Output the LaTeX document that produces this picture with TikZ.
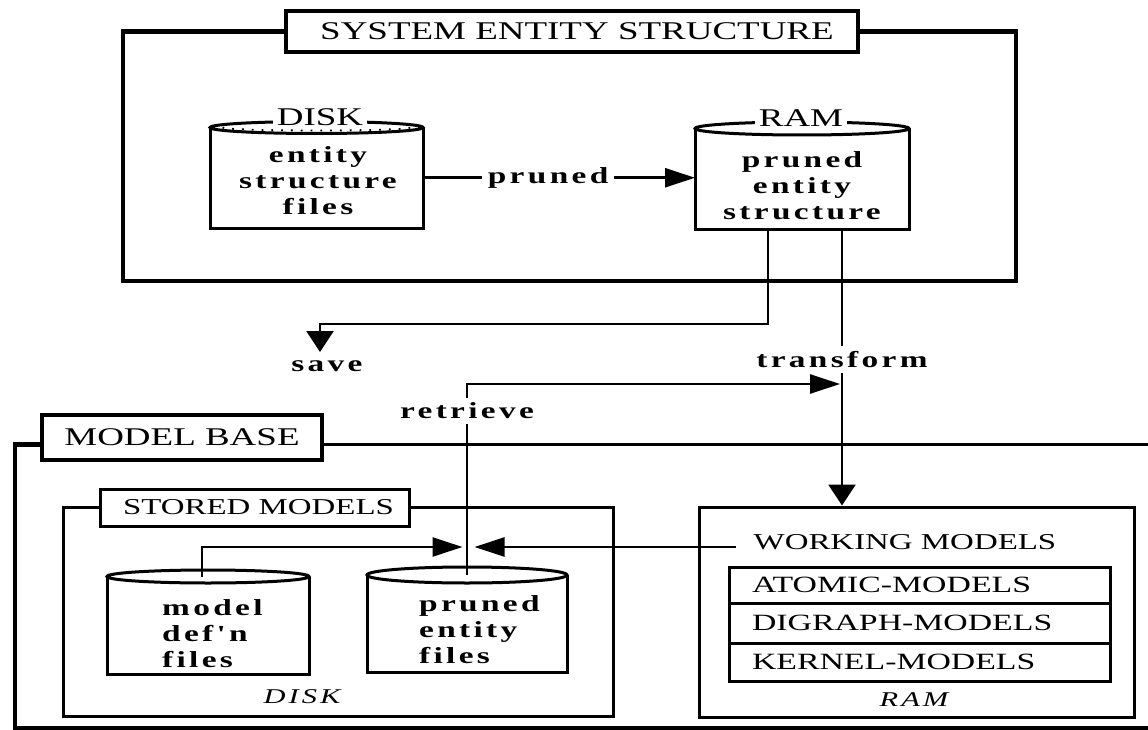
\documentclass[tikz,border=0pt]{standalone}
\usepackage{fontspec}
\usepackage{graphicx}
\setmainfont{Liberation Serif}
\newfontfamily\spacedfont[LetterSpace=10]{Liberation Serif}
\usetikzlibrary{arrows.meta}
% horizontally widened text, as set in the figure
\newcommand{\wtxt}[1]{\scalebox{1.45}[1]{#1}}
\newcommand{\titlefont}{\fontsize{25.5}{30}\selectfont}
\newcommand{\capsfont}{\fontsize{22.7}{27}\selectfont}
\newcommand{\stackfont}{\fontsize{23.3}{28}\selectfont}
\newcommand{\lcfont}{\spacedfont\bfseries\fontsize{23}{26}\selectfont}
\newcommand{\itfont}{\spacedfont\itshape\fontsize{21}{24}\selectfont}

\begin{document}
\begin{tikzpicture}[x=1pt,y=-1pt,
  frame/.style={line width=4.5pt},
  thinframe/.style={line width=3pt},
  titlebox/.style={draw, line width=4.5pt, fill=white, inner sep=0pt, outer sep=0pt},
  subtitlebox/.style={draw, line width=3pt, fill=white, inner sep=0pt, outer sep=0pt},
  cylbody/.style={inner sep=0pt, outer sep=0pt},
  cyl/.style={line width=3pt},
  conn/.style={line width=2.5pt},
  harrow/.style={-{Triangle[length=30pt,width=19pt]}},
  varrow/.style={-{Triangle[length=21pt,width=27pt]}},
  clbl/.style={fill=white, inner xsep=6pt, inner ysep=5pt, font=\lcfont},
  toplbl/.style={fill=white, inner xsep=4pt, inner ysep=1pt, font=\titlefont},
  stackbox/.style={draw, line width=3pt, minimum width=381pt, text width=335pt,
    inner xsep=23pt, inner ysep=0pt, align=left, font=\stackfont},
  speck/.style={line width=1.8pt, dash pattern=on 1.8pt off 8pt}
]
\fill[white] (0,0) rectangle (1148,730);
\useasboundingbox (0,0) rectangle (1148,730);

% ---------- system entity structure ----------
\node[titlebox, minimum width=572pt, minimum height=41pt, font=\titlefont]
  (sestitle) at (572,31.5) {\hspace{10pt}\wtxt{SYSTEM ENTITY STRUCTURE}};
\draw[frame] (sestitle.west) -| (123,281) -| (1016,31.5) -- (sestitle.east);

% disk cylinder
\node[cylbody, minimum width=213pt, minimum height=100.5pt] (diskbody) at (316.5,177.75) {};
\draw[cyl] (diskbody.north west) -- (diskbody.south west) -- (diskbody.south east) -- (diskbody.north east);
\draw[cyl] (diskbody.north) ellipse [x radius=106.5, y radius=6];
\draw[speck] ([xshift=-94pt]diskbody.north) arc [start angle=180, end angle=0, x radius=94, y radius=3];
\node[toplbl] (disklbl) at (320,117) {\wtxt{DISK}};
\node[align=center, font=\lcfont, inner sep=0pt] (disktext) at (318,181)
  {\wtxt{entity}\\\wtxt{structure}\\\wtxt{files}};

% ram cylinder
\node[cylbody, minimum width=214pt, minimum height=100.5pt] (rambody) at (802,178.75) {};
\draw[cyl] (rambody.north west) -- (rambody.south west) -- (rambody.south east) -- (rambody.north east);
\draw[cyl] (rambody.north) ellipse [x radius=107, y radius=6.5];
\node[toplbl] (ramlbl) at (801,118) {\wtxt{RAM}};
\node[align=center, font=\lcfont, inner sep=0pt] (ramtext) at (802,186)
  {\wtxt{pruned}\\\wtxt{entity}\\\wtxt{structure}};

% pruned
\draw[conn, harrow] (diskbody.east) --
  node[clbl, pos=0.46] (prunedlbl) {\wtxt{pruned}} (diskbody.east -| rambody.west);

% ---------- model base ----------
\node[titlebox, minimum width=280pt, minimum height=45pt, font=\titlefont]
  (mbtitle) at (182,437.5) {\wtxt{MODEL BASE}};
\draw[frame] ([yshift=-7pt]mbtitle.west) -| (15,728) -- (1148,728);
\draw[thinframe] ([yshift=-7pt]mbtitle.east) -- (1148,444.5);

% stored models
\node[subtitlebox, minimum width=309pt, minimum height=37pt, font=\capsfont]
  (sttitle) at (254.5,507.5) {\hspace{8pt}\wtxt{STORED MODELS}};
\draw[thinframe] (sttitle.west) -| (63,716) -| (613,507.5) -- (sttitle.east);

\node[cylbody, minimum width=202pt, minimum height=97.5pt] (mdbody) at (208,625.25) {};
\draw[cyl] (mdbody.north west) -- (mdbody.south west) -- (mdbody.south east) -- (mdbody.north east);
\draw[cyl] (mdbody.north) ellipse [x radius=101, y radius=6.5];
\node[align=left, font=\lcfont, inner sep=0pt, anchor=west] (mdtext) at (162,634)
  {\wtxt{model}\\\wtxt{def'n}\\\wtxt{files}};

\node[cylbody, minimum width=200pt, minimum height=97pt] (pefbody) at (467,623.5) {};
\draw[cyl] (pefbody.north west) -- (pefbody.south west) -- (pefbody.south east) -- (pefbody.north east);
\draw[cyl] (pefbody.north) ellipse [x radius=100, y radius=8];
\node[align=left, font=\lcfont, inner sep=0pt, anchor=west] (peftext) at (419,630)
  {\wtxt{pruned}\\\wtxt{entity}\\\wtxt{files}};

\node[font=\itfont, inner sep=0pt] (diskit) at (302,697) {\wtxt{DISK}};

% working models
\node[draw, line width=3pt, minimum width=435pt, minimum height=210pt, inner sep=0pt]
  (wmbox) at (916.5,612) {};
\node[font=\capsfont, inner sep=0pt] (wmtext) at (905,542) {\wtxt{WORKING MODELS}};
\node[stackbox, minimum height=36pt] (atomic) at (919.5,585) {\wtxt{ATOMIC-MODELS}};
\node[stackbox, minimum height=40pt] (digraph) at (919.5,623) {\wtxt{DIGRAPH-MODELS}};
\node[stackbox, minimum height=38pt] (kernel) at (919.5,662) {\wtxt{KERNEL-MODELS}};
\node[font=\itfont, inner sep=0pt] (ramit) at (914,700) {\wtxt{RAM}};

% ---------- connectors ----------
\coordinate (savetip) at (320,352);
\coordinate (retrievetip) at (840,384);
\coordinate (meet) at (468.5,547);
\coordinate (wmin) at (736,547);

\node[font=\lcfont, inner sep=0pt] (savelbl) at (327,366) {\wtxt{save}};
\draw[conn, varrow] ([xshift=-34pt]rambody.south) -- ++(0,95) -| (savetip);

\draw[conn, varrow] ([xshift=40pt]rambody.south) --
  node[clbl, pos=0.472] (transformlbl) {\wtxt{transform}} ([xshift=40pt]rambody.south |- wmbox.north);

\draw[conn, harrow] (pefbody.north) --
  node[clbl, pos=0.86] (retrievelbl) {\wtxt{retrieve}} (pefbody.north |- retrievetip) -- (retrievetip);

\draw[conn, harrow] ([xshift=-6pt]mdbody.north) |- ([xshift=-6pt]meet);
\draw[conn, harrow] (wmin) -- ([xshift=6pt]meet);
\end{tikzpicture}
\end{document}
